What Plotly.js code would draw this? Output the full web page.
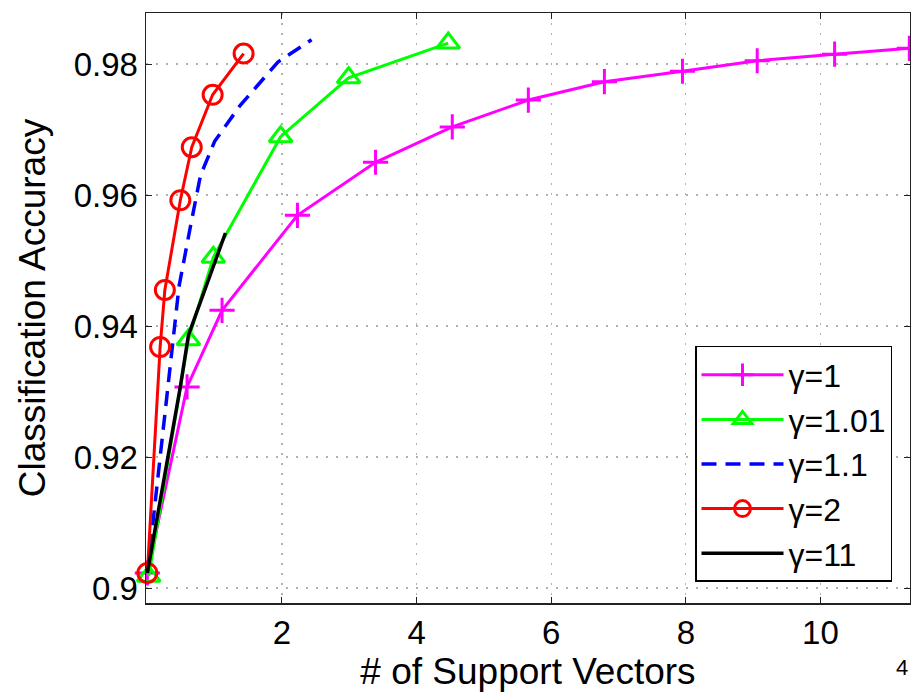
<!DOCTYPE html>
<html>
<head>
<meta charset="utf-8">
<script src="https://cdn.plot.ly/plotly-3.0.1.min.js"></script>
<style>html,body{margin:0;padding:0;background:#fff;}#chart{width:911px;height:695px;}</style>
</head>
<body>
<div id="chart"></div>
<script>
// Values (x in units of 10^4 support vectors)
const g1_x   = [0, 0.59, 1.11, 2.23, 3.39, 4.53, 5.66, 6.79, 7.95, 9.06, 10.21, 11.32];
const g1_y   = [0.9023, 0.9307, 0.9424, 0.9569, 0.9650, 0.9704, 0.9745, 0.9773, 0.9789, 0.9805, 0.9815, 0.9824];
const g101_x = [0.02, 0.61, 0.98, 1.98, 2.99, 4.47];
const g101_y = [0.9018, 0.9379, 0.9505, 0.9689, 0.9779, 0.9832];
const g11b_x = [0, 0.38, 0.47, 0.64, 0.79, 1.00, 1.38, 1.94, 2.44];
const g11b_y = [0.9023, 0.9379, 0.9460, 0.9552, 0.9630, 0.9682, 0.9737, 0.9803, 0.9837];
const g2_x   = [0, 0.19, 0.26, 0.49, 0.66, 0.97, 1.43];
const g2_y   = [0.9023, 0.9368, 0.9455, 0.9592, 0.9673, 0.9753, 0.9816];
const g11_x  = [0, 0.30, 0.49, 0.61, 1.16];
const g11_y  = [0.9023, 0.9200, 0.9307, 0.9386, 0.9542];

const names = ['γ=1', 'γ=1.01', 'γ=1.1', 'γ=2', 'γ=11'];
const xTickVals = [2, 4, 6, 8, 10];
const xTickText = ['2', '4', '6', '8', '10'];
const yTickVals = [0.90, 0.92, 0.94, 0.96, 0.98];
const yTickText = ['0.9', '0.92', '0.94', '0.96', '0.98'];

const FONT = 'Liberation Sans, Arial, Helvetica, sans-serif';

const traces = [
  {x: g1_x, y: g1_y, name: names[0], mode: 'lines+markers',
   line: {color: '#ff00ff', width: 3},
   marker: {symbol: 'cross-thin-open', size: 18, color: '#ff00ff', line: {color: '#ff00ff', width: 3}}},
  {x: g101_x, y: g101_y, name: names[1], mode: 'lines+markers',
   line: {color: '#00ff00', width: 3},
   marker: {symbol: 'triangle-up-open', size: 20, color: '#00ff00', line: {color: '#00ff00', width: 3}}},
  {x: g11b_x, y: g11b_y, name: names[2], mode: 'lines',
   line: {color: '#0000ff', width: 3.5, dash: '15px,9px'}},
  {x: g2_x, y: g2_y, name: names[3], mode: 'lines+markers',
   line: {color: '#ff0000', width: 3},
   marker: {symbol: 'circle-open', size: 19, color: '#ff0000', line: {color: '#ff0000', width: 3}}},
  {x: g11_x, y: g11_y, name: names[4], mode: 'lines',
   line: {color: '#000000', width: 3.5}}
];
traces.forEach(t => { t.type = 'scatter'; t.cliponaxis = false; });

const layout = {
  width: 911, height: 695,
  margin: {l: 146, r: 1, t: 13, b: 92, pad: 0},
  paper_bgcolor: '#ffffff', plot_bgcolor: '#ffffff',
  font: {family: FONT, color: '#000', size: 33},
  showlegend: true,
  legend: {
    x: 0.7186, y: 0.4356, xanchor: 'left', yanchor: 'top',
    bgcolor: '#ffffff', bordercolor: '#000', borderwidth: 1.5,
    font: {family: FONT, size: 32, color: '#000'},
    tracegroupgap: 0, itemwidth: 82
  },
  xaxis: {
    range: [-0.02, 11.33], autorange: false,
    tickvals: xTickVals, ticktext: xTickText,
    ticks: 'inside', ticklen: 6, tickwidth: 1, tickcolor: '#222',
    showline: true, linecolor: '#222', linewidth: 1.5, mirror: 'ticks',
    showgrid: true, gridcolor: '#b0b0b0', griddash: '2px,8px', gridwidth: 1.2,
    zeroline: false,
    tickfont: {family: FONT, size: 33, color: '#000'},
    title: {text: '# of Support Vectors', font: {family: FONT, size: 37, color: '#000'}, standoff: 2},
    automargin: false
  },
  yaxis: {
    range: [0.89771, 0.98779], autorange: false,
    tickvals: yTickVals, ticktext: yTickText,
    ticks: 'inside', ticklen: 6, tickwidth: 1, tickcolor: '#222',
    showline: true, linecolor: '#222', linewidth: 1.5, mirror: 'ticks',
    showgrid: true, gridcolor: '#b0b0b0', griddash: '2px,8px', gridwidth: 1.2,
    zeroline: false,
    tickfont: {family: FONT, size: 33, color: '#000'},
    ticklabelstandoff: 0,
    title: {text: 'Classification Accuracy', font: {family: FONT, size: 37, color: '#000'}, standoff: 16},
    automargin: false
  },
  annotations: [
    {text: '4', xref: 'paper', yref: 'paper', x: 1, y: -0.11, xanchor: 'right', yanchor: 'middle',
     showarrow: false, font: {family: FONT, size: 22, color: '#000'}}
  ]
};

Plotly.newPlot('chart', traces, layout, {displayModeBar: false, staticPlot: true});
</script>
</body>
</html>
